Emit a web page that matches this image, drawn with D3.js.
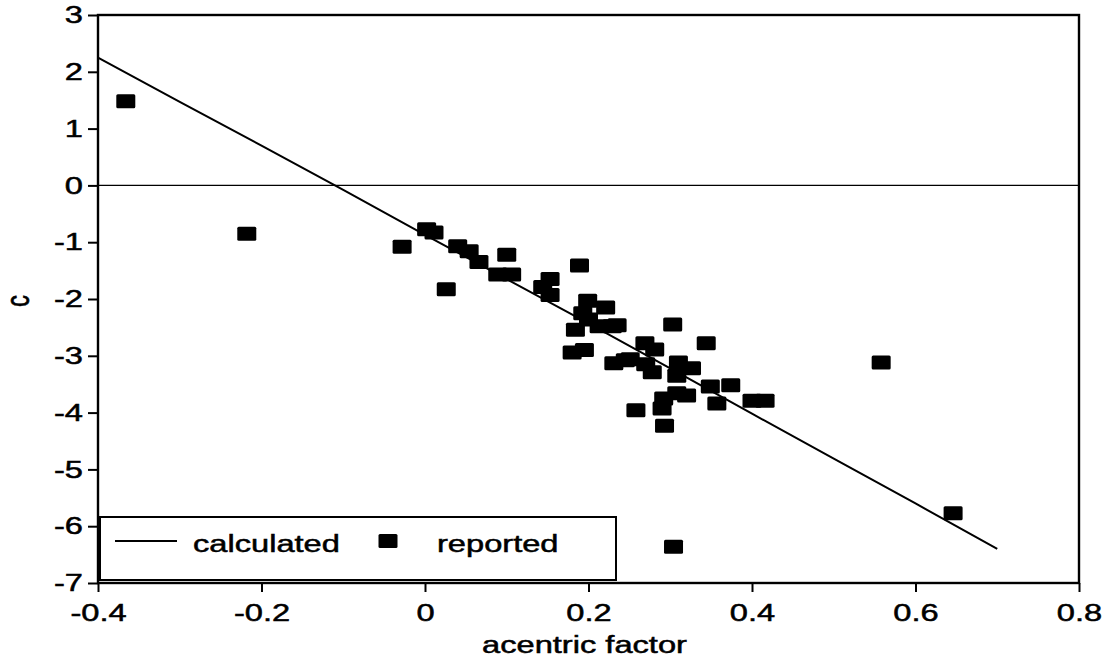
<!DOCTYPE html>
<html>
<head>
<meta charset="utf-8">
<script src="https://cdn.jsdelivr.net/npm/d3@7"></script>
<style>
  html, body { margin: 0; padding: 0; background: #fff; }
  svg text { font-family: "Liberation Sans", Arial, Helvetica, sans-serif; fill: #000; stroke: #000; stroke-width: 0.5px; }
</style>
</head>
<body>
<div id="chart"></div>
<script>
// reported c values vs acentric factor
const repW = [-0.366, -0.218, -0.028, 0.002, 0.011, 0.026, 0.040, 0.054, 0.066, 0.089,
              0.106, 0.100, 0.153, 0.144, 0.153, 0.189, 0.199, 0.221, 0.193, 0.200,
              0.184, 0.213, 0.229, 0.235, 0.180, 0.195, 0.303, 0.344, 0.269, 0.281,
              0.231, 0.245, 0.251, 0.278, 0.310, 0.326, 0.308, 0.292, 0.308, 0.320,
              0.290, 0.293, 0.258, 0.349, 0.374, 0.357, 0.400, 0.416, 0.558, 0.646,
              0.304, 0.270];
const repC = [1.48, -0.85, -1.08, -0.77, -0.83, -1.83, -1.07, -1.16, -1.35, -1.57,
              -1.57, -1.22, -1.65, -1.79, -1.93, -1.41, -2.03, -2.15, -2.25, -2.36,
              -2.54, -2.48, -2.48, -2.46, -2.94, -2.90, -2.45, -2.78, -2.78, -2.89,
              -3.13, -3.08, -3.06, -3.29, -3.12, -3.22, -3.35, -3.75, -3.66, -3.70,
              -3.93, -4.23, -3.96, -3.54, -3.52, -3.84, -3.79, -3.79, -3.12, -5.77,
              -6.36, -3.15];

// calculated curve
const calcW = [-0.4, -0.3, -0.2, -0.1, 0, 0.1, 0.2, 0.3, 0.4, 0.5, 0.6, 0.7];
const calcC = [2.25, 1.47, 0.70, -0.08, -0.87, -1.65, -2.43, -3.22, -4.02, -4.81, -5.60, -6.40];

const xTicks = [-0.4, -0.2, 0, 0.2, 0.4, 0.6, 0.8];
const xTickLabels = ["-0.4", "-0.2", "0", "0.2", "0.4", "0.6", "0.8"];
const yTicks = [3, 2, 1, 0, -1, -2, -3, -4, -5, -6, -7];

const W = 1105, H = 663;
const M = { left: 98, right: 1079, top: 15, bottom: 583 };
const SX = 1.36;      // text in the reference is stretched horizontally
const FS = 24;

const x = d3.scaleLinear().domain([-0.4, 0.8]).range([M.left, M.right]);
const y = d3.scaleLinear().domain([-7, 3]).range([M.bottom, M.top]);

const svg = d3.select('#chart').append('svg')
  .attr('width', W).attr('height', H)
  .style('display', 'block');

// zero line
svg.append('line')
  .attr('x1', M.left).attr('x2', M.right)
  .attr('y1', y(0)).attr('y2', y(0))
  .attr('stroke', '#000').attr('stroke-width', 1.4);

// calculated line
const line = d3.line().x(d => x(d[0])).y(d => y(d[1]));
svg.append('path')
  .datum(calcW.map((w, i) => [w, calcC[i]]))
  .attr('fill', 'none')
  .attr('stroke', '#000')
  .attr('stroke-width', 2)
  .attr('d', line);

// reported markers
const mw = 19, mh = 14;
svg.append('g')
  .selectAll('rect')
  .data(repW.map((w, i) => [w, repC[i]]))
  .join('rect')
  .attr('x', d => x(d[0]) - mw / 2)
  .attr('y', d => y(d[1]) - mh / 2)
  .attr('width', mw).attr('height', mh)
  .attr('rx', 1.5)
  .attr('fill', '#000');

// axes
const xAxis = svg.append('g')
  .attr('transform', `translate(0,${M.bottom})`)
  .call(d3.axisBottom(x).tickValues(xTicks)
    .tickFormat((d, i) => xTickLabels[i])
    .tickSize(9).tickPadding(12));

const yAxis = svg.append('g')
  .attr('transform', `translate(${M.left},0)`)
  .call(d3.axisLeft(y).tickValues(yTicks)
    .tickFormat(d => String(d))
    .tickSize(10).tickPadding(5));

[xAxis, yAxis].forEach(a => {
  a.select('.domain').remove();
  a.selectAll('.tick line').attr('stroke', '#000').attr('stroke-width', 2);
  a.selectAll('.tick text')
    .attr('font-size', FS)
    .attr('fill', '#000');
});
xAxis.selectAll('.tick text').attr('transform', `scale(${SX},1)`);
yAxis.selectAll('.tick text')
  .attr('x', -15 / SX)
  .attr('transform', `scale(${SX},1)`);

// frame
svg.append('rect')
  .attr('x', M.left).attr('y', M.top)
  .attr('width', M.right - M.left).attr('height', M.bottom - M.top)
  .attr('fill', 'none')
  .attr('stroke', '#000')
  .attr('stroke-width', 2.4);

// axis titles
svg.append('text')
  .attr('transform', `translate(${(M.left + M.right) / 2 - 4},653) scale(${SX},1)`)
  .attr('text-anchor', 'middle')
  .attr('font-size', FS)
  .text('acentric factor');

svg.append('text')
  .attr('transform', `translate(29,${(M.top + M.bottom) / 2 + 2}) scale(${SX},1) rotate(-90)`)
  .attr('text-anchor', 'middle')
  .attr('font-size', FS)
  .text('c');

// legend
const lg = svg.append('g');
lg.append('rect')
  .attr('x', 100).attr('y', 517)
  .attr('width', 516).attr('height', 63)
  .attr('fill', '#fff')
  .attr('stroke', '#000')
  .attr('stroke-width', 2);
lg.append('line')
  .attr('x1', 115).attr('x2', 177)
  .attr('y1', 541).attr('y2', 541)
  .attr('stroke', '#000').attr('stroke-width', 2);
lg.append('text')
  .attr('transform', `translate(193,552) scale(${SX},1)`)
  .attr('font-size', FS)
  .text('calculated');
lg.append('rect')
  .attr('x', 388 - mw / 2).attr('y', 541 - mh / 2)
  .attr('width', mw).attr('height', mh)
  .attr('rx', 1.5)
  .attr('fill', '#000');
lg.append('text')
  .attr('transform', `translate(437,552) scale(${SX},1)`)
  .attr('font-size', FS)
  .text('reported');
</script>
</body>
</html>
